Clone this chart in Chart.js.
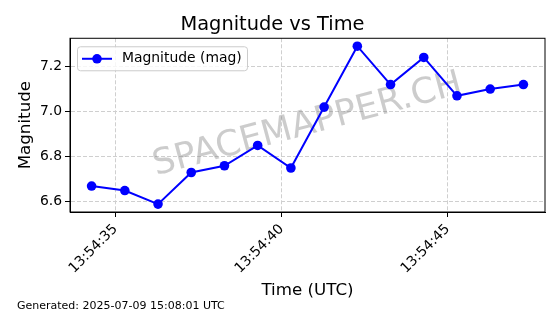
<!DOCTYPE html>
<html>
<head>
<meta charset="utf-8">
<script src="https://cdn.jsdelivr.net/npm/chart.js@4.4.0/dist/chart.umd.min.js"></script>
<style>
html, body { margin: 0; padding: 0; background: #fff; }
</style>
</head>
<body>
<canvas id="chart" width="560" height="314"></canvas>
<script>
// observation times (UTC) and measured magnitudes
const times = ['13:54:34.28', '13:54:35.28', '13:54:36.28', '13:54:37.28', '13:54:38.28',
               '13:54:39.28', '13:54:40.28', '13:54:41.28', '13:54:42.28', '13:54:43.28',
               '13:54:44.28', '13:54:45.28', '13:54:46.28', '13:54:47.28'];
const magnitudes = [6.67, 6.65, 6.59, 6.73, 6.76, 6.85, 6.75, 7.02, 7.29, 7.12, 7.24, 7.07, 7.10, 7.12];

const xTickValues = [35, 40, 45];
const xTickLabels = ['13:54:35', '13:54:40', '13:54:45'];
const yTickValues = [6.6, 6.8, 7.0, 7.2];

const fontFamily = '"DejaVu Sans", sans-serif';

// seconds after 13:54:00
function toSeconds(t) {
    const parts = t.split(':');
    return (parseInt(parts[0]) - 13) * 3600 + (parseInt(parts[1]) - 54) * 60 + parseFloat(parts[2]);
}

const points = times.map((t, i) => ({x: toSeconds(t), y: magnitudes[i]}));

const framePlugin = {
    id: 'frame',
    beforeDatasetsDraw(chart) {
        const {ctx, chartArea} = chart;
        // watermark
        ctx.save();
        ctx.translate((chartArea.left + chartArea.right) / 2, (chartArea.top + chartArea.bottom) / 2);
        ctx.rotate(-15 * Math.PI / 180);
        ctx.font = '35.5px ' + fontFamily;
        ctx.fillStyle = 'rgba(128,128,128,0.4)';
        ctx.textAlign = 'center';
        ctx.textBaseline = 'middle';
        ctx.fillText('SPACEMAPPER.CH', 0, 0);
        ctx.restore();
    },
    afterDatasetsDraw(chart) {
        const {ctx, chartArea} = chart;
        const l = chartArea.left, t = chartArea.top;
        // legend box
        ctx.save();
        ctx.beginPath();
        ctx.roundRect(l + 7.5, t + 8.5, 170, 24, 3);
        ctx.fillStyle = 'rgba(255,255,255,0.8)';
        ctx.fill();
        ctx.strokeStyle = '#cccccc';
        ctx.lineWidth = 1;
        ctx.stroke();
        ctx.beginPath();
        ctx.moveTo(l + 12, t + 20.5);
        ctx.lineTo(l + 42, t + 20.5);
        ctx.strokeStyle = '#0000ff';
        ctx.lineWidth = 2;
        ctx.stroke();
        ctx.beginPath();
        ctx.arc(l + 27, t + 20.5, 4.8, 0, Math.PI * 2);
        ctx.fillStyle = '#0000ff';
        ctx.fill();
        ctx.font = '13.9px ' + fontFamily;
        ctx.fillStyle = '#000';
        ctx.textBaseline = 'middle';
        ctx.fillText('Magnitude (mag)', l + 52, t + 20.5);
        ctx.restore();
    },
    afterDraw(chart) {
        const {ctx, chartArea} = chart;
        ctx.save();
        ctx.strokeStyle = '#000';
        ctx.lineWidth = 1;
        ctx.strokeRect(chartArea.left, chartArea.top, chartArea.right - chartArea.left, chartArea.bottom - chartArea.top);
        ctx.font = '11px ' + fontFamily;
        ctx.fillStyle = '#000';
        ctx.textBaseline = 'alphabetic';
        ctx.fillText('Generated: 2025-07-09 15:08:01 UTC', 17, 309);
        ctx.restore();
    }
};

new Chart(document.getElementById('chart'), {
    type: 'line',
    data: {
        datasets: [{
            label: 'Magnitude (mag)',
            data: points,
            borderColor: '#0000ff',
            backgroundColor: '#0000ff',
            borderWidth: 2,
            pointRadius: 4.8,
            pointBackgroundColor: '#0000ff',
            pointBorderColor: '#0000ff',
            pointBorderWidth: 0,
            tension: 0
        }]
    },
    options: {
        responsive: false,
        animation: false,
        devicePixelRatio: 1,
        layout: { padding: { top: 0, right: 15, bottom: 4, left: 0 } },
        plugins: {
            legend: { display: false },
            tooltip: { enabled: false },
            title: {
                display: true,
                text: 'Magnitude vs Time',
                color: '#000',
                font: { family: fontFamily, size: 19.4, weight: 'normal', lineHeight: 1.2 },
                padding: { top: 13, bottom: 2 }
            }
        },
        scales: {
            x: {
                type: 'linear',
                min: 33.63,
                max: 47.93,
                afterBuildTicks: (scale) => { scale.ticks = xTickValues.map(v => ({value: v})); },
                afterFit: (scale) => { scale.height = 98; },
                ticks: {
                    callback: (value) => xTickLabels[xTickValues.indexOf(value)],
                    maxRotation: 45,
                    minRotation: 45,
                    color: '#000',
                    padding: 4,
                    font: { family: fontFamily, size: 13.9 }
                },
                grid: { color: '#cfcfcf', tickLength: 5, tickColor: '#000' },
                border: { display: true, color: '#000', dash: [4, 2] },
                title: {
                    display: true,
                    text: 'Time (UTC)',
                    color: '#000',
                    font: { family: fontFamily, size: 16.7, lineHeight: 1.2 },
                    padding: { top: 9, bottom: 9 }
                }
            },
            y: {
                type: 'linear',
                min: 6.555,
                max: 7.325,
                afterBuildTicks: (scale) => { scale.ticks = yTickValues.map(v => ({value: v})); },
                afterFit: (scale) => { scale.width = 70; },
                ticks: {
                    callback: (value) => value.toFixed(1),
                    color: '#000',
                    padding: 3,
                    font: { family: fontFamily, size: 13.9 }
                },
                grid: { color: '#cfcfcf', tickLength: 5, tickColor: '#000' },
                border: { display: true, color: '#000', dash: [4, 2] },
                title: {
                    display: true,
                    text: 'Magnitude',
                    color: '#000',
                    font: { family: fontFamily, size: 16.7, lineHeight: 1.2 },
                    padding: { top: 16, bottom: 0 }
                }
            }
        }
    },
    plugins: [framePlugin]
});
</script>
</body>
</html>
